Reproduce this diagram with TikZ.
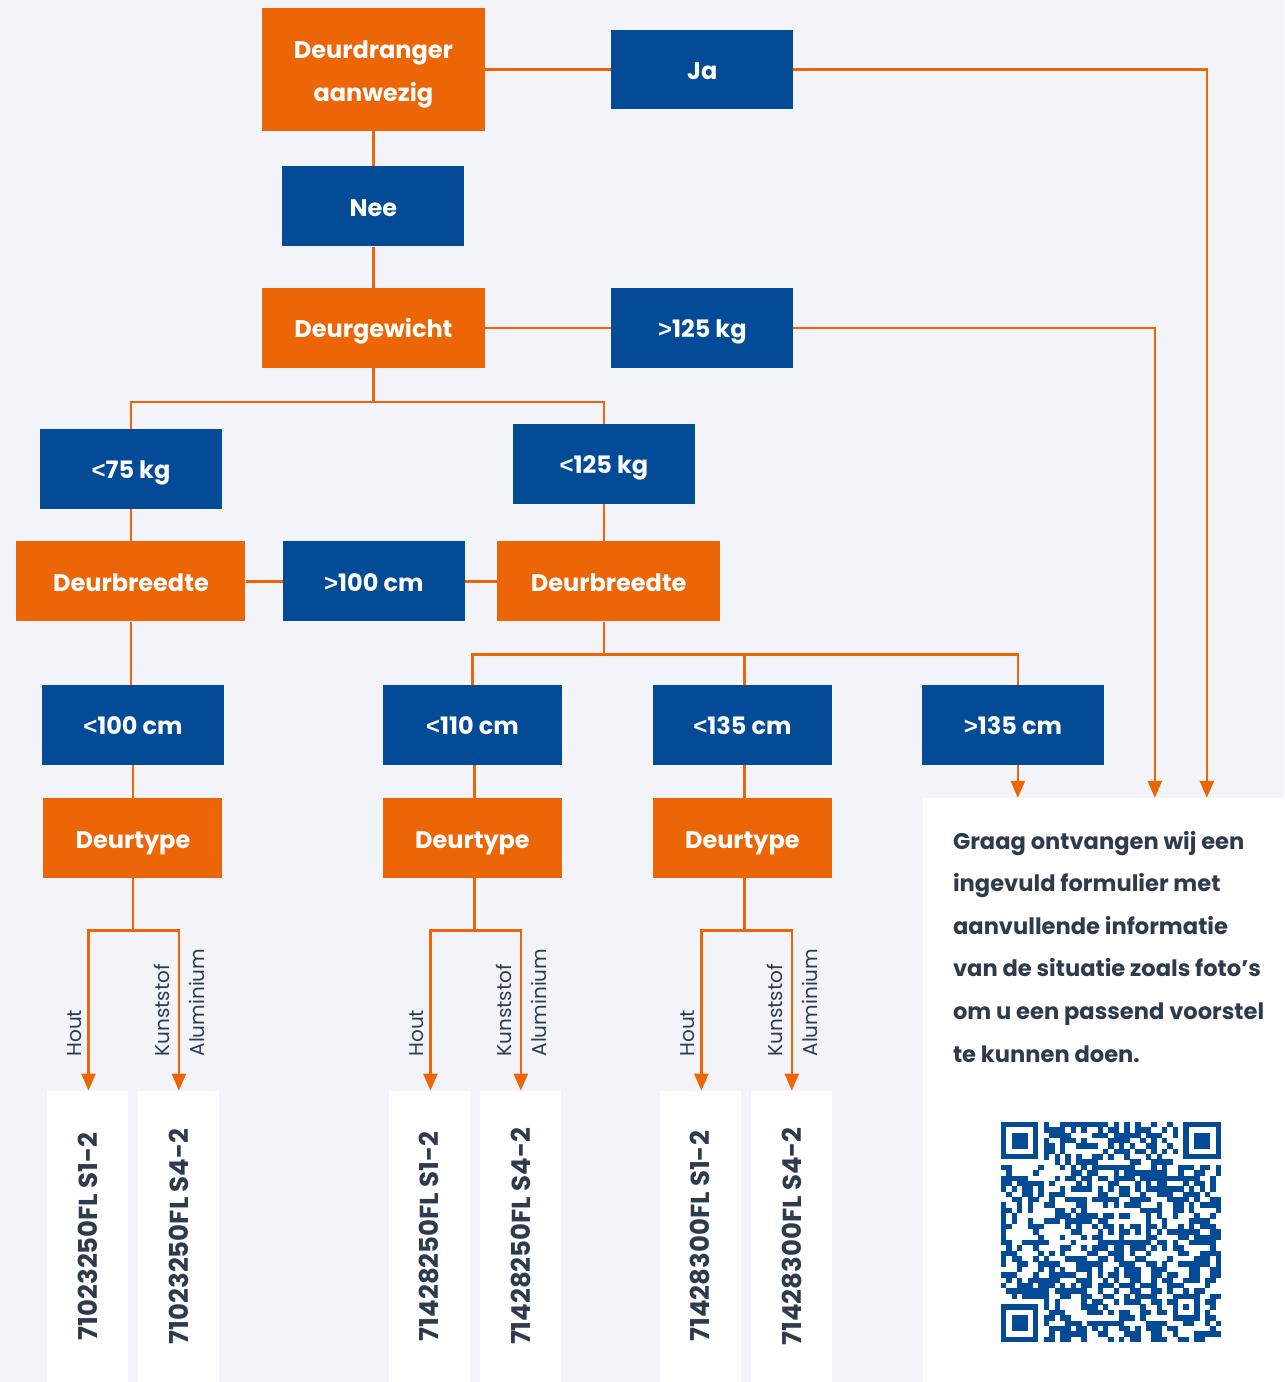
\documentclass[tikz,border=0pt]{standalone}
\usepackage{fontspec}
\setmainfont{Poppins}
\newfontfamily\symf{Liberation Sans}
\newcommand\ltsym{{\symf <}}
\newcommand\gtsym{{\symf >}}
\usetikzlibrary{arrows.meta,positioning}
\definecolor{orng}{HTML}{EC6608}
\definecolor{blu}{HTML}{034A97}
\definecolor{bgc}{HTML}{F3F4F9}
\definecolor{ink}{HTML}{2E3B4E}

\begin{document}
\begin{tikzpicture} [x=1pt, y=-1pt,
    ques/.style={rectangle, fill=orng, text=white, inner sep=0pt, minimum width=223pt, minimum height=80pt, text height=20pt, text depth=0pt, align=center, font=\bfseries\fontsize{24}{43}\selectfont},
    answ/.style={rectangle, fill=blu, text=white, inner sep=0pt, minimum width=182pt, minimum height=80pt, text height=20pt, text depth=0pt, font=\bfseries\fontsize{24}{28}\selectfont},
    leaf/.style={rectangle, fill=white, text=ink, inner sep=0pt, minimum width=81pt, minimum height=291pt, font=\bfseries\fontsize{26}{30}\selectfont},
    lbl/.style={rotate=90, anchor=west, inner sep=0pt, text=ink, font=\fontsize{20}{24}\selectfont},
    infobox/.style={rectangle, fill=white, inner sep=0pt, minimum width=361pt, minimum height=584pt},
    msg/.style={inner sep=0pt, align=left, text=ink, font=\bfseries\fontsize{22.6}{42.6}\selectfont},
    link/.style={draw=orng, line width=2.5pt},
    >={Triangle[length=17pt,width=14pt]}
    ]
    \fill[bgc] (0,0) rectangle (1284,1382);

    %Nodes
    \node[ques, minimum height=123pt, text height=, text depth=] (dd) at (373.5,69.5) {\rule{0pt}{27pt}Deurdranger\\aanwezig};
    \node[answ]      (ja)     [right=126pt of dd] {Ja};
    \node[answ]      (nee)    [below=35pt of dd] {Nee};
    \node[ques]      (gew)    [below=41pt of nee] {Deurgewicht};
    \node[answ]      (g125)   [right=126pt of gew] {\gtsym125 kg};
    \node[answ]      (l75)    at (131,469) {\ltsym75 kg};
    \node[answ]      (l125)   at (604,464) {\ltsym125 kg};
    \node[ques, minimum width=229pt] (bre1) [below=32pt of l75] {Deurbreedte};
    \node[answ]      (g100)   [right=37pt of bre1] {\gtsym100 cm};
    \node[ques]      (bre2)   [right=32pt of g100] {Deurbreedte};
    \node[answ]      (l100)   at (133,725) {\ltsym100 cm};
    \node[answ, minimum width=179pt] (l110) at (472.5,725) {\ltsym110 cm};
    \node[answ, minimum width=179pt] (l135) at (742.5,725) {\ltsym135 cm};
    \node[answ]      (g135)   at (1013,725) {\gtsym135 cm};
    \node[ques, minimum width=179pt] (typ1) [below=33pt of l100] {Deurtype};
    \node[ques, minimum width=179pt] (typ2) [below=33pt of l110] {Deurtype};
    \node[ques, minimum width=179pt] (typ3) [below=33pt of l135] {Deurtype};

    \node[leaf]      (leaf11) at (87.5,1236.5) {\rotatebox{90}{71023250FL S1-2}};
    \node[leaf]      (leaf12) [right=10pt of leaf11] {\rotatebox{90}{71023250FL S4-2}};
    \node[leaf]      (leaf21) at (429.5,1236.5) {\rotatebox{90}{71428250FL S1-2}};
    \node[leaf]      (leaf22) [right=10pt of leaf21] {\rotatebox{90}{71428250FL S4-2}};
    \node[leaf]      (leaf31) at (700.5,1236.5) {\rotatebox{90}{71428300FL S1-2}};
    \node[leaf]      (leaf32) [right=10pt of leaf31] {\rotatebox{90}{71428300FL S4-2}};

    \node[infobox, anchor=north west] (info) at (923,798) {};
    \node[msg, anchor=north west] (txt) at (953,831) {Graag ontvangen wij een\\ingevuld formulier met\\aanvullende informatie\\van de situatie zoals foto’s\\om u een passend voorstel\\te kunnen doen.};

    %Labels
    \foreach \g in {1,2,3} {
        \node[lbl] (hout\g) at ([xshift=-13pt,yshift=34pt]leaf\g1.north) {Hout};
        \node[lbl] (kunst\g) at ([xshift=-17pt,yshift=34pt]leaf\g2.north) {Kunststof};
        \node[lbl] (alu\g) at ([xshift=18pt,yshift=34pt]leaf\g2.north) {Aluminium};
    }

    %Lines
    \draw[link] (dd.east) -- (ja.west);
    \draw[link] (dd.south) -- (nee.north);
    \draw[link] (nee.south) -- (gew.north);
    \draw[link] (gew.east) -- (g125.west);
    \draw[link,->] (ja.east) -| ([xshift=284pt]info.north west);
    \draw[link,->] (g125.east) -| ([xshift=232pt]info.north west);
    \draw[link] (gew.south) -- ++(0,34) -| (l75.north);
    \draw[link] (gew.south) -- ++(0,34) -| (l125.north);
    \draw[link] (l75.south) -- (bre1.north);
    \draw[link] (l125.south) -- (l125.south |- bre2.north);
    \draw[link] (bre1.east) -- (g100.west);
    \draw[link] (g100.east) -- (bre2.west);
    \draw[link] (bre1.south -| l75.south) -- (l75.south |- l100.north);
    \draw[link] (bre2.south -| l125.south) -- ++(0,33) -| (l110.north);
    \draw[link] (bre2.south -| l125.south) -- ++(0,33) -| ([xshift=2pt]l135.north);
    \draw[link] (bre2.south -| l125.south) -- ++(0,33) -| ([xshift=5pt]g135.north);
    \draw[link,->] ([xshift=5pt]g135.south) -- ([xshift=5pt]g135.south |- info.north);
    \draw[link] (l100.south -| typ1.south) -- (typ1.north);
    \draw[link] ([xshift=2pt]l110.south) -- ([xshift=2pt]typ2.north);
    \draw[link] ([xshift=2pt]l135.south) -- ([xshift=2pt]typ3.north);
    \foreach \g/\s in {1/0,2/2,3/2} {
        \draw[link,->] ([xshift=\s pt]typ\g.south) -- ++(0,52) -| ([xshift=1pt]leaf\g1.north);
        \draw[link,->] ([xshift=\s pt]typ\g.south) -- ++(0,52) -| (leaf\g2.north);
    }

    %QR
    \begin{scope}[shift={(1001,1122)}, x=5.37pt, y=-5.37pt]
        \pgfmathsetseed{4242}
        \foreach \i in {0,...,40} {
            \foreach \j in {0,...,40} {
                \pgfmathtruncatemacro\qfin{((\i<8)&&(\j<8)) || ((\i>32)&&(\j<8)) || ((\i<8)&&(\j>32)) || ((\i>31)&&(\i<37)&&(\j>31)&&(\j<37))}
                \ifnum\qfin=0
                    \pgfmathtruncatemacro\qon{rnd<0.5}
                    \ifnum\qon=1 \fill[blu] (\i,\j) rectangle +(1.02,1.02);\fi
                \fi
            }
        }
        \foreach \a/\b in {0/0,34/0,0/34} {
            \fill[blu] (\a,\b) rectangle +(7,7);
            \fill[white] (\a+1,\b+1) rectangle +(5,5);
            \fill[blu] (\a+2,\b+2) rectangle +(3,3);
        }
        \fill[blu] (32,32) rectangle +(5,5);
        \fill[white] (33,33) rectangle +(3,3);
        \fill[blu] (34,34) rectangle +(1,1);
    \end{scope}
\end{tikzpicture}
\end{document}
